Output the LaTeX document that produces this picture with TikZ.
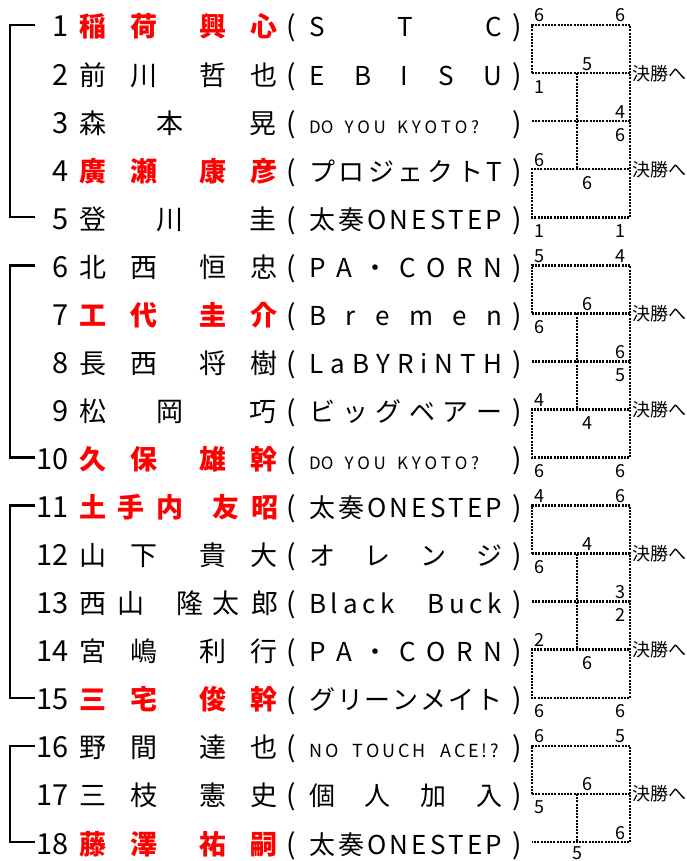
\documentclass[tikz,border=0pt]{standalone}
\usepackage{fontspec}
\setmainfont{Noto Sans CJK JP}

\newcommand{\nmfour}[4]{#1\hspace{24pt}#2\hspace{42pt}#3\hspace{24pt}#4}
\newcommand{\nmthree}[3]{#1\hspace{50pt}#2\hspace{66pt}#3}
\newcommand{\team}[1]{\makebox[193pt][s]{#1}}
\newcommand{\steam}[3]{\makebox[#1][s]{\fontsize{#2}{#2}\selectfont #3}}

\tikzset{
  num/.style={anchor=base east, inner sep=0pt, font=\fontsize{29}{29}\selectfont},
  nm/.style={anchor=base west, inner sep=0pt, font=\fontsize{27}{27}\selectfont},
  other/.style={},
  win/.style={text=red, font=\fontsize{27}{27}\selectfont\bfseries},
  tm/.style={anchor=base west, inner sep=0pt, font=\fontsize{26}{26}\selectfont},
  paren/.style={anchor=base, inner sep=0pt, font=\fontsize{28}{28}\selectfont},
  sc/.style={anchor=base, inner sep=0pt, font=\fontsize{18}{18}\selectfont},
  hi/.style={sc, yshift=3pt},
  lo/.style={sc, yshift=-20pt},
  fin/.style={anchor=base west, inner sep=0pt, font=\fontsize{18}{18}\selectfont, yshift=-7pt},
  score/.style={line width=2.6pt, dash pattern=on 2pt off 1.2pt},
  brk/.style={line width=2.5pt},
}

\begin{document}
\begin{tikzpicture}[x=1pt, y=-1pt]
  \useasboundingbox (0,0) rectangle (687,861);

  \foreach \i/\nm/\tm/\st in {
    1/{\nmfour{稲}{荷}{興}{心}}/{\team{S\hfill T\hfill C}}/win,
    2/{\nmfour{前}{川}{哲}{也}}/{\team{E\hfill B\hfill I\hfill S\hfill U}}/other,
    3/{\nmthree{森}{本}{晃}}/{\steam{170pt}{17}{DO\hspace{0pt plus 3fill}Y\hfill O\hfill U\hspace{0pt plus 3fill}K\hfill Y\hfill O\hfill T\hfill O\hfill ?}}/other,
    4/{\nmfour{廣}{瀬}{康}{彦}}/{\team{プ\hfill ロ\hfill ジ\hfill ェ\hfill ク\hfill ト\hfill T}}/win,
    5/{\nmthree{登}{川}{圭}}/{\team{太\hfill 奏\hfill O\hfill N\hfill E\hfill S\hfill T\hfill E\hfill P}}/other,
    6/{\nmfour{北}{西}{恒}{忠}}/{\team{P\hfill A\hfill ・\hfill C\hfill O\hfill R\hfill N}}/other,
    7/{\nmfour{工}{代}{圭}{介}}/{\team{B\hfill r\hfill e\hfill m\hfill e\hfill n}}/win,
    8/{\nmfour{長}{西}{将}{樹}}/{\team{L\hfill a\hfill B\hfill Y\hfill R\hfill i\hfill N\hfill T\hfill H}}/other,
    9/{\nmthree{松}{岡}{巧}}/{\team{ビ\hfill ッ\hfill グ\hfill ベ\hfill ア\hfill ー}}/other,
    10/{\nmfour{久}{保}{雄}{幹}}/{\steam{170pt}{17}{DO\hspace{0pt plus 3fill}Y\hfill O\hfill U\hspace{0pt plus 3fill}K\hfill Y\hfill O\hfill T\hfill O\hfill ?}}/win,
    11/{土\hspace{11pt}手\hspace{12pt}内\hspace{29pt}友\hspace{12pt}昭}/{\team{太\hfill 奏\hfill O\hfill N\hfill E\hfill S\hfill T\hfill E\hfill P}}/win,
    12/{\nmfour{山}{下}{貴}{大}}/{\team{オ\hfill レ\hfill ン\hfill ジ}}/other,
    13/{西\hspace{11pt}山\hspace{32pt}隆\hspace{9pt}太\hspace{12pt}郎}/{\team{B\hfill l\hfill a\hfill c\hfill k\hspace{0pt plus 7fill}B\hfill u\hfill c\hfill k}}/other,
    14/{\nmfour{宮}{嶋}{利}{行}}/{\team{P\hfill A\hfill ・\hfill C\hfill O\hfill R\hfill N}}/other,
    15/{\nmfour{三}{宅}{俊}{幹}}/{\team{グ\hfill リ\hfill ー\hfill ン\hfill メ\hfill イ\hfill ト}}/win,
    16/{\nmfour{野}{間}{達}{也}}/{\steam{190pt}{18}{N\hfill O\hspace{0pt plus 5fill}T\hfill O\hfill U\hfill C\hfill H\hspace{0pt plus 5fill}A\hfill C\hfill E\hfill !\hfill ?}}/other,
    17/{\nmfour{三}{枝}{憲}{史}}/{\team{個\hfill 人\hfill 加\hfill 入}}/other,
    18/{\nmfour{藤}{澤}{祐}{嗣}}/{\team{太\hfill 奏\hfill O\hfill N\hfill E\hfill S\hfill T\hfill E\hfill P}}/win}{
    \pgfmathsetmacro{\y}{25+(\i-1)*48.06}
    \pgfmathsetmacro{\base}{\y+12}
    \coordinate (B\i) at (10,\y);
    \coordinate (T\i) at (35,\y);
    \coordinate (L\i) at (532,\y);
    \coordinate (M\i) at (577,\y);
    \coordinate (R\i) at (630,\y);
    \node[num] (n\i) at (69,\base) {\i};
    \node[nm,\st] (p\i) at (79,\base) {\nm};
    \node[paren] (o\i) at (291,\base) {(};
    \node[tm] (t\i) at (309,\base) {\tm};
    \node[paren] (c\i) at (517,\base) {)};
  }

  \draw[brk] (T1) -- (B1) -- (B5) -- (T5);
  \draw[brk] (T6) -- (B6) -- (B10) -- (T10);
  \draw[brk] (T11) -- (B11) -- (B15) -- (T15);
  \draw[brk] (T16) -- (B16) -- (B18) -- (T18);

  \foreach \ra/\rb/\rc/\rd/\re in {1/2/3/4/5, 6/7/8/9/10, 11/12/13/14/15}{
    \draw[score] (L\rb) -- (L\ra) -- (R\ra) -- (R\re) -- (L\re) -- (L\rd) -- (R\rd);
    \draw[score] (L\rb) -- (R\rb);
    \draw[score] (L\rc) -- (R\rc);
    \draw[score] (M\rb) -- (M\rd);
  }
  \draw[score] (L17) -- (L16) -- (R16) -- (R18) -- (L18);
  \draw[score] (L17) -- (R17);
  \draw[score] (M17) -- (M18);

  \foreach \v/\x/\rw/\pos [count=\k] in {
    6/539/1/hi, 6/620/1/hi, 5/587/2/hi, 1/539/2/lo, 4/620/3/hi,
    6/620/3/lo, 6/539/4/hi, 6/587/4/lo, 1/539/5/lo, 1/620/5/lo,
    5/539/6/hi, 4/620/6/hi, 6/587/7/hi, 6/539/7/lo, 6/620/8/hi,
    5/620/8/lo, 4/539/9/hi, 4/587/9/lo, 6/539/10/lo, 6/620/10/lo,
    4/539/11/hi, 6/620/11/hi, 4/587/12/hi, 6/539/12/lo, 3/620/13/hi,
    2/620/13/lo, 2/539/14/hi, 6/587/14/lo, 6/539/15/lo, 6/620/15/lo,
    6/539/16/hi, 5/620/16/hi, 6/587/17/hi, 5/539/17/lo, 6/620/18/hi}
    \node[\pos] (s\k) at (\x,{25+(\rw-1)*48.06}) {\v};
  \node[sc, yshift=-17pt] (s36) at (M18) {5};

  \foreach \rw [count=\k] in {2,4,7,9,12,14,17}
    \node[fin] (f\k) at (632,{25+(\rw-1)*48.06}) {決勝へ};
\end{tikzpicture}
\end{document}
